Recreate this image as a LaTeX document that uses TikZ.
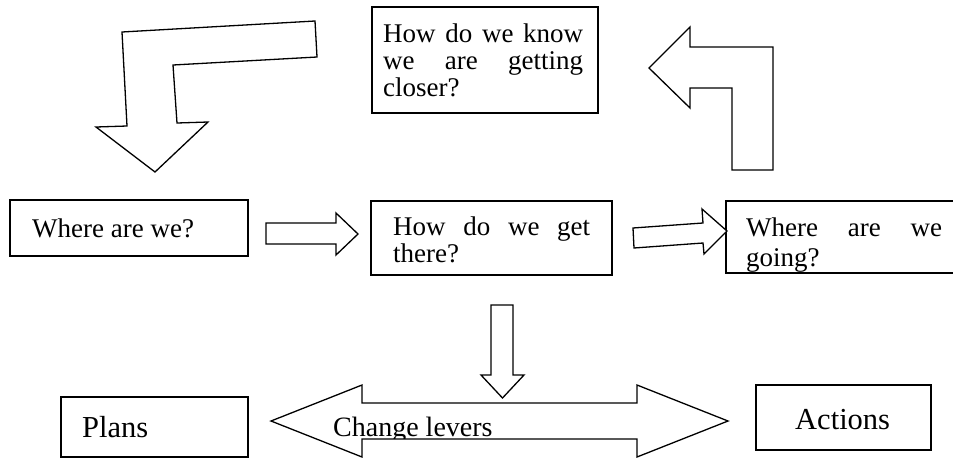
\documentclass[tikz,border=0pt]{standalone}
\usepackage{fontspec}
\setmainfont{Liberation Serif}
\begin{document}
\begin{tikzpicture}[x=1pt,y=-1pt,
  box/.style={draw, line width=1.4pt, inner sep=0pt, fill=white},
  blockarrow/.style={draw, line width=1.3pt, fill=white, line join=miter},
  txt/.style={anchor=base west, inner sep=0pt, font=\fontsize{27}{28}\selectfont},
  bigtxt/.style={anchor=base west, inner sep=0pt, font=\fontsize{30.5}{32}\selectfont},
  midtxt/.style={anchor=base west, inner sep=0pt, font=\fontsize{28}{30}\selectfont}]
\useasboundingbox (0,0) rectangle (953,459);

% boxes
\node[box, minimum width=226pt, minimum height=106pt] (know) at (485,60) {};
\node[box, minimum width=238pt, minimum height=56pt] (where) at (129,228) {};
\node[box, minimum width=241pt, minimum height=74pt] (get) at (491.5,238) {};
\node[box, minimum width=248pt, minimum height=72pt] (going) at (850,237) {};
\node[box, minimum width=187pt, minimum height=60pt] (plans) at (154.5,427) {};
\node[box, minimum width=175pt, minimum height=65pt] (actions) at (843.5,417.5) {};

% texts
\node[txt] (t1) at (383,42) {\hbox to 200pt{How\hfill do\hfill we\hfill know}};
\node[txt] (t2) at (383,69) {\hbox to 200pt{we\hfill are\hfill getting}};
\node[txt] (t3) at (383,96) {closer?};
\node[txt] (t4) at (32,237) {Where are we?};
\node[txt] (t5) at (393,235) {\hbox to 197pt{How\hfill do\hfill we\hfill get}};
\node[txt] (t6) at (393,262) {there?};
\node[txt] (t7) at (746,236) {\hbox to 196pt{Where\hfill are\hfill we}};
\begin{scope}
  \clip (727,202) rectangle (953,271.5);
  \node[txt] (t8) at (746,266) {going?};
\end{scope}
\node[bigtxt] (t9) at (82,437) {Plans};
\node[bigtxt] (t10) at (795,429) {Actions};

% bent arrow top left
\draw[blockarrow] (122,32) -- (315,21) -- (317,57) -- (173,65) -- (177,123)
  -- (208,122) -- (155,172) -- (96,127) -- (127,126) -- cycle;
% bent arrow top right
\draw[blockarrow] (649,68) -- (690,27) -- (690,47) -- (773,47) -- (773,170)
  -- (732,170) -- (732,88) -- (690,88) -- (690,108) -- cycle;
% middle arrows
\draw[blockarrow] (266,223) -- (336,223) -- (336,213) -- (358,234) -- (336,255)
  -- (336,244) -- (266,244) -- cycle;
\draw[blockarrow] (633,228) -- (703,223) -- (702,209) -- (727,231) -- (704,254)
  -- (703,243) -- (634,248) -- cycle;
% down arrow
\draw[blockarrow] (491,305) -- (513,305) -- (513,375) -- (524,375) -- (502.5,398)
  -- (481,375) -- (491,375) -- cycle;
% double arrow
\draw[blockarrow] (271,421) -- (362,385) -- (362,403) -- (637,403) -- (637,385)
  -- (728,421) -- (637,457) -- (637,439) -- (362,439) -- (362,457) -- cycle;
\begin{scope}
  \clip (271,385) rectangle (728,438.2);
  \node[midtxt] (t11) at (333,436) {Change levers};
\end{scope}
\end{tikzpicture}
\end{document}
